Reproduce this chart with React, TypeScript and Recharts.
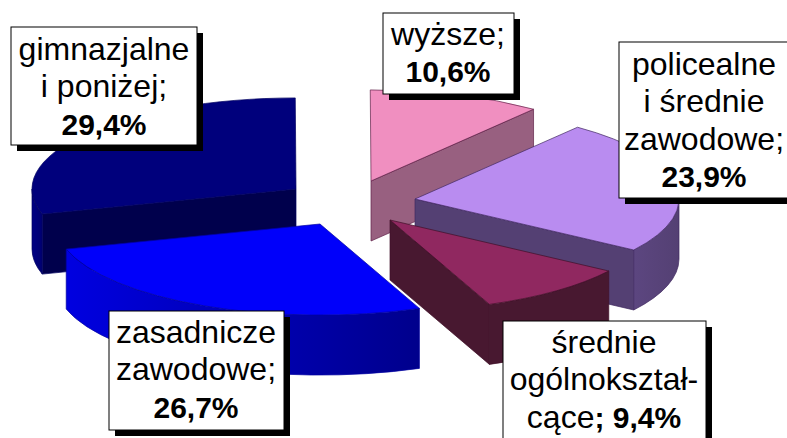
import { Pie, PieChart } from "recharts"

// order starts at the back left slice so the front slices paint over it
const categories = ["gimnazjalne i poniżej", "wyższe", "policealne i średnie zawodowe", "średnie ogólnokształcące", "zasadnicze zawodowe"]
const shares = [29.4, 10.6, 23.9, 9.4, 26.7]
const labelLines = [
  ["gimnazjalne", "i poniżej;"],
  ["wyższe;"],
  ["policealne", "i średnie", "zawodowe;"],
  ["średnie", "ogólnokształ-"],
  ["zasadnicze", "zawodowe;"],
]

const topColors = ["#00007c", "#f08fc0", "#b98cf0", "#902860", "#0000fa"]
const faceColors = ["#00004c", "#986080", "#544073", "#481830", "#0000c8"]
const sideFrom = ["#000084", "#986080", "#5c4680", "#481830", "#0000e0"]
const sideTo = ["#000070", "#986080", "#544073", "#481830", "#00008c"]
const edgeColors = ["#000060", "#602048", "#402860", "#401028", "#0000a0"]

const W = 787
const H = 438
const CX = 340
const CY = 200
const RX = 264
const SQUASH = 0.345
const DEPTH = 60

// explode offset of every slice from the pie centre
const offsetX = [-44, 31, 75, 50, -20]
const offsetY = [-11, -19, -1, 20, 24]

// label boxes: x, y, width, height, text centre, first baseline
const boxes = [
  [11, 27, 186, 118, 104, 60],
  [383, 13, 131, 81, 448, 45],
  [619, 42, 180, 156, 704, 75],
  [503, 321, 203, 130, 604, 353],
  [109, 311, 175, 119, 196, 343],
]
const LINE = 37.3
const SHADOW = 6

const rows = categories.map((name, i) => ({ name, value: shares[i] }))

function SliceShape(props: any) {
  const { cx, cy, outerRadius, startAngle, endAngle, index } = props
  const ox = cx + offsetX[index]
  const oy = cy + offsetY[index]
  const ry = outerRadius * SQUASH
  const pt = (deg: number, dz = 0) => {
    const a = (deg * Math.PI) / 180
    return [ox + outerRadius * Math.cos(a), oy - ry * Math.sin(a) + dz]
  }
  const from = startAngle
  const to = endAngle
  const sweep = from - to
  const [sx, sy] = pt(from)
  const [ex, ey] = pt(to)
  const arcTop = `M${ox},${oy} L${sx},${sy} A${outerRadius},${ry} 0 ${sweep > 180 ? 1 : 0} 1 ${ex},${ey} Z`

  // clock angles measured from 12 o'clock, brought back into the first turn
  let clockFrom = 90 - from
  if (clockFrom >= 359.9) clockFrom -= 360
  const clockTo = clockFrom + sweep

  // radial walls only show when they turn towards the viewer
  const startVisible = Math.sin((clockFrom * Math.PI) / 180) < -0.01
  const endVisible = Math.sin((clockTo * Math.PI) / 180) > 0.01
  const wall = (x: number, y: number) =>
    `M${ox},${oy} L${x},${y} L${x},${y + DEPTH} L${ox},${oy + DEPTH} Z`

  // outer wall only on the front half of the ellipse
  const a1 = Math.max(clockFrom, 90)
  const a2 = Math.min(clockTo, 270)
  let side = ""
  if (a2 > a1) {
    const [x1, y1] = pt(90 - a1)
    const [x2, y2] = pt(90 - a2)
    side = `M${x1},${y1} A${outerRadius},${ry} 0 0 1 ${x2},${y2} L${x2},${y2 + DEPTH} A${outerRadius},${ry} 0 0 0 ${x1},${y1 + DEPTH} Z`
  }
  const gradId = `side-${index}`
  const edge = edgeColors[index]
  return (
    <g>
      <defs>
        <linearGradient id={gradId} x1="0" y1="0" x2="1" y2="0">
          <stop offset="0%" stopColor={sideFrom[index]} />
          <stop offset="100%" stopColor={sideTo[index]} />
        </linearGradient>
      </defs>
      {startVisible && <path d={wall(sx, sy)} fill={faceColors[index]} stroke={edge} strokeWidth={0.7} />}
      {endVisible && <path d={wall(ex, ey)} fill={faceColors[index]} stroke={edge} strokeWidth={0.7} />}
      {side && <path d={side} fill={`url(#${gradId})`} stroke={edge} strokeWidth={0.7} />}
      <path d={arcTop} fill={topColors[index]} stroke={edge} strokeWidth={0.7} />
    </g>
  )
}

function BoxLabel(props: any) {
  const { index, value } = props
  const [x, y, w, h, tx, base] = boxes[index]
  const pct = `${value.toFixed(1).replace(".", ",")}%`
  const lines = labelLines[index]
  const font = { fontFamily: "Liberation Sans", fontSize: 32, fill: "#000", textAnchor: "middle" as const }
  return (
    <g>
      <rect x={x + SHADOW} y={y + SHADOW} width={w} height={h} fill="#000" />
      <rect x={x} y={y} width={w} height={h} fill="#fff" stroke="#000" strokeWidth={1} />
      {lines.map((line, i) => (
        <text key={line} x={tx} y={base + i * LINE} {...font}>{line}</text>
      ))}
      {index === 3 ? (
        <text x={tx} y={base + lines.length * LINE} {...font}>
          cące<tspan fontWeight="bold" fontSize={30}>; {pct}</tspan>
        </text>
      ) : (
        <text x={tx} y={base + lines.length * LINE} {...font} fontSize={30} fontWeight="bold">{pct}</text>
      )}
    </g>
  )
}

export default function App() {
  return (
    <div style={{ position: "absolute", left: 0, top: 0, width: W, height: H, overflow: "hidden", background: "#fff" }}>
      <PieChart width={W} height={H} margin={{ top: 0, right: 0, bottom: 0, left: 0 }}>
        <Pie
          data={rows}
          dataKey="value"
          nameKey="name"
          cx={CX}
          cy={CY}
          outerRadius={RX}
          startAngle={-164}
          endAngle={-524}
          paddingAngle={0}
          stroke="none"
          shape={SliceShape}
          label={BoxLabel}
          labelLine={false}
          isAnimationActive={false}
        />
      </PieChart>
    </div>
  )
}
